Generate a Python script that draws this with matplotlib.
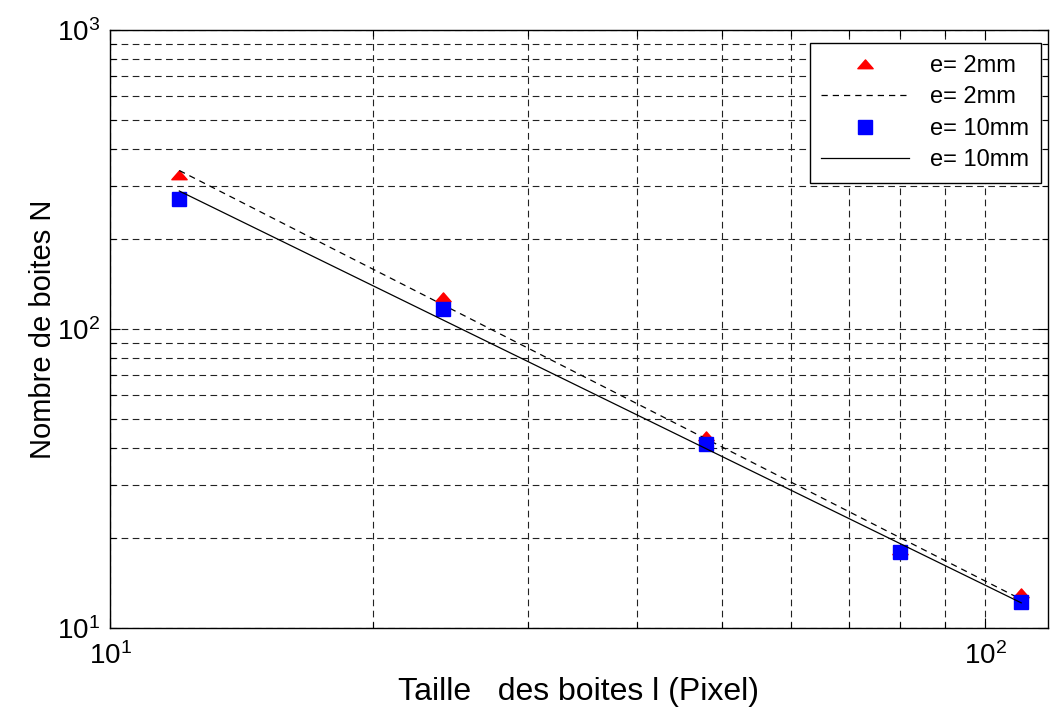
import matplotlib
matplotlib.use('Agg')
import matplotlib.pyplot as plt
import numpy as np
from matplotlib.path import Path

plt.rcParams['font.family'] = ['Liberation Sans', 'DejaVu Sans']
plt.rcParams['mathtext.fontset'] = 'custom'
plt.rcParams['mathtext.rm'] = 'Liberation Sans'
plt.rcParams['mathtext.it'] = 'Liberation Sans'
plt.rcParams['mathtext.default'] = 'regular'

# box sizes (pixels) and box counts for the two thicknesses
taille = np.array([12, 24, 48, 80, 110])
n_2mm = np.array([327, 128, 43.9, 18.2, 13.1])
n_10mm = np.array([272, 116.7, 41.2, 18.0, 12.2])
labels = ['e= 2mm', 'e= 2mm', 'e= 10mm', 'e= 10mm']

# power law fit  N = a * l^b  in log-log
def fit(x, y):
    b, a = np.polyfit(np.log10(x), np.log10(y), 1)
    xx = np.logspace(np.log10(x[0]), np.log10(x[-1]), 200)
    return xx, 10 ** (a + b * np.log10(xx))

x2, f2 = fit(taille, n_2mm)
x10, f10 = fit(taille, n_10mm)

# flat matlab-like triangle
tri = Path([(-1, -0.55), (1, -0.55), (0, 0.6), (-1, -0.55)],
           [Path.MOVETO, Path.LINETO, Path.LINETO, Path.CLOSEPOLY])

fig = plt.figure(figsize=(10.5, 7.07), dpi=100)
ax = fig.add_axes([0.1048, 0.1117, 0.8932, 0.8459])

ax.plot(taille, n_2mm, linestyle='none', marker=tri, ms=11, color='red',
        mec='red', label=labels[0])
ax.plot(x2, f2, color='black', lw=0.9, dashes=(5, 4), label=labels[1])
ax.plot(taille, n_10mm, linestyle='none', marker='s', ms=9.5, color='blue',
        mec='blue', label=labels[2])
ax.plot(x10, f10, color='black', lw=0.9, label=labels[3])

ax.set_xscale('log')
ax.set_yscale('log')
ax.set_xlim(10, 118)
ax.set_ylim(10, 1000)

ax.grid(True, which='both', color='#222222', lw=0.8, dashes=(6, 4))
ax.tick_params(which='both', direction='in', top=True, right=True,
               labelsize=20, width=0.8)
ax.tick_params(which='major', length=7)
ax.tick_params(which='minor', length=4)
ax.tick_params(axis='x', pad=10)
ax.tick_params(axis='y', pad=7)
for s in ax.spines.values():
    s.set_linewidth(1.0)

ax.set_xlabel('Taille   des boites l (Pixel)', fontsize=23, labelpad=5)
ax.set_ylabel('Nombre de boites N', fontsize=21, labelpad=0)

leg = ax.legend(loc='upper right', bbox_to_anchor=(0.9925, 0.978),
                fontsize=17, handlelength=3.7, handletextpad=0.9,
                labelspacing=0.4, borderaxespad=0, fancybox=False,
                framealpha=1, edgecolor='black', borderpad=0.5)
leg.get_frame().set_linewidth(1.0)

fig.savefig('out.png', dpi=100)
